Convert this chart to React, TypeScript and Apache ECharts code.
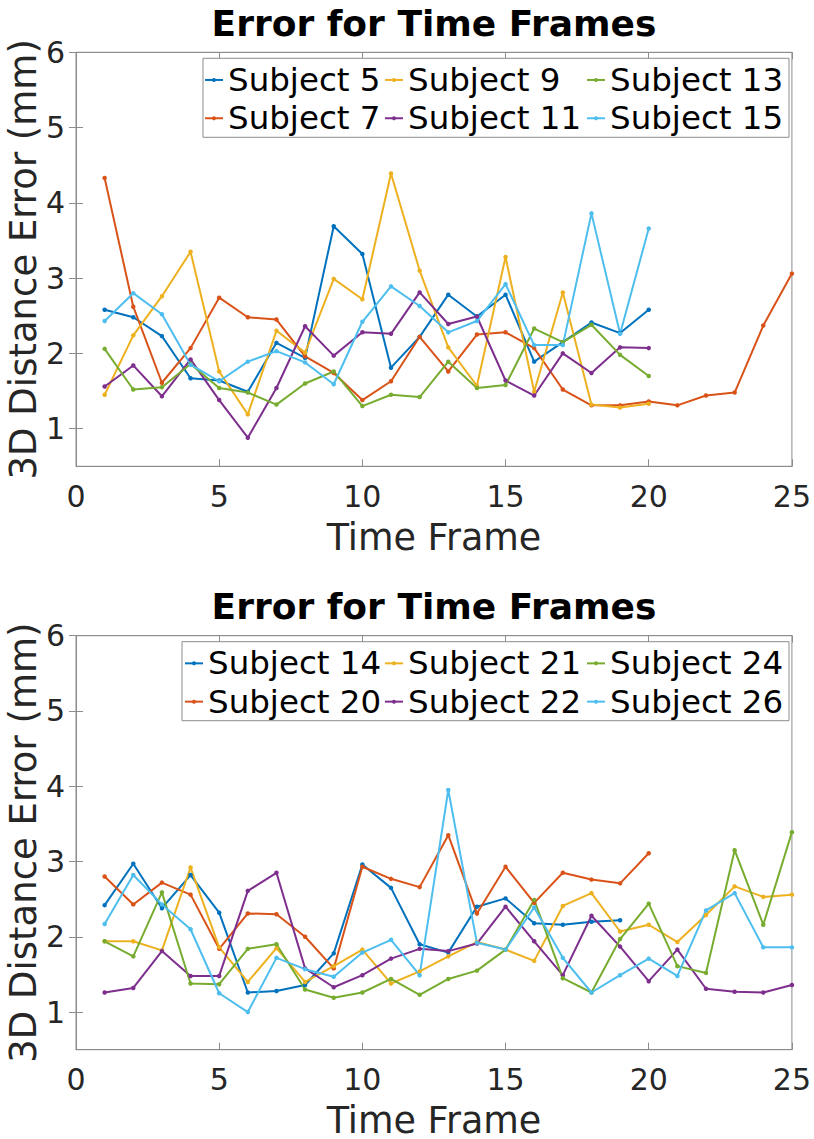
import React, { useEffect, useRef } from "react";
import * as echarts from "echarts";

const frames = [1, 2, 3, 4, 5, 6, 7, 8, 9, 10, 11, 12, 13, 14, 15, 16, 17, 18, 19, 20, 21, 22, 23, 24, 25];
const xTicks = [0, 5, 10, 15, 20, 25];
const yTicks = [1, 2, 3, 4, 5, 6];

// Top chart
const subject5 = [2.58, 2.48, 2.23, 1.67, 1.64, 1.49, 2.14, 1.94, 3.69, 3.32, 1.81, 2.22, 2.78, 2.49, 2.78, 1.89, 2.15, 2.41, 2.27, 2.58];
const subject7 = [4.33, 2.62, 1.61, 2.07, 2.74, 2.48, 2.45, 1.96, 1.74, 1.38, 1.63, 2.22, 1.76, 2.25, 2.28, 2.07, 1.52, 1.31, 1.31, 1.36, 1.31, 1.44, 1.48, 2.37, 3.06];
const subject9 = [1.45, 2.24, 2.76, 3.35, 1.76, 1.19, 2.3, 2.01, 2.99, 2.72, 4.39, 3.1, 2.08, 1.57, 3.28, 1.49, 2.81, 1.32, 1.28, 1.33];
const subject11 = [1.56, 1.84, 1.43, 1.92, 1.38, 0.88, 1.54, 2.36, 1.97, 2.28, 2.26, 2.81, 2.39, 2.49, 1.64, 1.44, 2.0, 1.74, 2.08, 2.07];
const subject13 = [2.06, 1.52, 1.55, 1.86, 1.54, 1.48, 1.32, 1.6, 1.76, 1.3, 1.45, 1.42, 1.89, 1.54, 1.58, 2.33, 2.15, 2.38, 1.98, 1.7];
const subject15 = [2.43, 2.8, 2.52, 1.85, 1.63, 1.89, 2.03, 1.88, 1.59, 2.42, 2.89, 2.63, 2.28, 2.43, 2.92, 2.11, 2.11, 3.86, 2.26, 3.66];

// Bottom chart
const subject14 = [2.42, 2.97, 2.38, 2.82, 2.32, 1.26, 1.28, 1.36, 1.78, 2.96, 2.65, 1.9, 1.79, 2.4, 2.51, 2.18, 2.16, 2.2, 2.22];
const subject20 = [2.8, 2.43, 2.72, 2.56, 1.84, 2.31, 2.3, 2.0, 1.58, 2.93, 2.77, 2.66, 3.35, 2.31, 2.93, 2.45, 2.85, 2.76, 2.71, 3.11];
const subject21 = [1.94, 1.94, 1.82, 2.92, 1.86, 1.4, 1.85, 1.4, 1.61, 1.83, 1.38, 1.54, 1.74, 1.93, 1.83, 1.68, 2.41, 2.58, 2.07, 2.16, 1.93, 2.29, 2.67, 2.53, 2.56];
const subject22 = [1.26, 1.32, 1.81, 1.48, 1.48, 2.61, 2.85, 1.58, 1.33, 1.49, 1.71, 1.84, 1.81, 1.91, 2.4, 1.94, 1.49, 2.28, 1.87, 1.41, 1.83, 1.31, 1.27, 1.26, 1.36];
const subject24 = [1.94, 1.74, 2.59, 1.38, 1.37, 1.84, 1.9, 1.3, 1.19, 1.26, 1.44, 1.23, 1.44, 1.55, 1.83, 2.49, 1.45, 1.26, 1.97, 2.44, 1.61, 1.52, 3.15, 2.16, 3.39];
const subject26 = [2.17, 2.82, 2.43, 2.1, 1.25, 1.0, 1.72, 1.57, 1.47, 1.79, 1.96, 1.49, 3.95, 1.92, 1.83, 2.39, 1.72, 1.26, 1.49, 1.71, 1.48, 2.35, 2.58, 1.86, 1.86];

const topNames = ["Subject 5", "Subject 7", "Subject 9", "Subject 11", "Subject 13", "Subject 15"];
const bottomNames = ["Subject 14", "Subject 20", "Subject 21", "Subject 22", "Subject 24", "Subject 26"];
const topValues = [subject5, subject7, subject9, subject11, subject13, subject15];
const bottomValues = [subject14, subject20, subject21, subject22, subject24, subject26];
const colors = ["#0072BD", "#D95319", "#EDB120", "#7E2F8E", "#77AC30", "#4DBEEE"];

const titleText = "Error for Time Frames";
const xLabel = "Time Frame";
const yLabel = "3D Distance Error (mm)";

const FONT = "DejaVu Sans";
const AXIS_COLOR = "#8c8c8c";
const TEXT_COLOR = "#262626";

const GRID_LEFT = 76;
const GRID_RIGHT_X = 792;
const GRID_TOPS = [52.3, 635.7];
const GRID_H = 414;

export default function App() {
  const ref = useRef<HTMLDivElement>(null);

  useEffect(() => {
    if (!ref.current) return;
    const chart = echarts.init(ref.current, null, { renderer: "svg" });

    const grids = GRID_TOPS.map((t) => ({
      left: GRID_LEFT,
      top: t,
      width: GRID_RIGHT_X - GRID_LEFT,
      height: GRID_H,
      show: true,
      borderColor: AXIS_COLOR,
      borderWidth: 1,
      backgroundColor: "#fff",
    }));

    const xAxes: any[] = [];
    const yAxes: any[] = [];
    [0, 1].forEach((g) => {
      xAxes.push({
        type: "value",
        gridIndex: g,
        position: "bottom",
        min: 0,
        max: 25,
        interval: 5,
        axisLine: { show: true, lineStyle: { color: AXIS_COLOR, width: 1 } },
        axisTick: { show: true, inside: true, length: 7, lineStyle: { color: AXIS_COLOR } },
        axisLabel: { show: true, margin: 15, fontSize: 30, fontFamily: FONT, color: TEXT_COLOR, customValues: xTicks },
        splitLine: { show: false },
      });
      xAxes.push({
        type: "value",
        gridIndex: g,
        position: "top",
        min: 0,
        max: 25,
        interval: 5,
        axisLine: { show: true, lineStyle: { color: AXIS_COLOR, width: 1 } },
        axisTick: { show: true, inside: true, length: 7, lineStyle: { color: AXIS_COLOR } },
        axisLabel: { show: false },
        splitLine: { show: false },
      });
      yAxes.push({
        type: "value",
        gridIndex: g,
        position: "left",
        min: 0.5,
        max: 6,
        axisLine: { show: true, lineStyle: { color: AXIS_COLOR, width: 1 } },
        axisTick: { show: true, inside: true, length: 7, lineStyle: { color: AXIS_COLOR }, customValues: yTicks },
        axisLabel: { show: true, margin: 11, fontSize: 30, fontFamily: FONT, color: TEXT_COLOR, customValues: yTicks },
        splitLine: { show: false },
      });
      yAxes.push({
        type: "value",
        gridIndex: g,
        position: "right",
        min: 0.5,
        max: 6,
        axisLine: { show: true, lineStyle: { color: AXIS_COLOR, width: 1 } },
        axisTick: { show: true, inside: true, length: 7, lineStyle: { color: AXIS_COLOR }, customValues: yTicks },
        axisLabel: { show: false },
        splitLine: { show: false },
      });
    });

    const mkSeries = (names: string[], values: number[][], g: number) =>
      names.map((name, i) => ({
        name,
        type: "line",
        xAxisIndex: g * 2,
        yAxisIndex: g * 2,
        data: values[i].map((v, k) => [frames[k], v]),
        symbol: "circle",
        symbolSize: 4.5,
        showSymbol: true,
        lineStyle: { width: 2, color: colors[i] },
        itemStyle: { color: colors[i] },
        emphasis: { disabled: true },
      }));

    const legendCol = (names: string[], left: number, top: number) => ({
      orient: "vertical",
      left,
      top,
      data: names,
      itemWidth: 18,
      itemHeight: 5,
      itemGap: 0,
      padding: 0,
      selectedMode: false,
      textStyle: { fontSize: 32.5, lineHeight: 38.3, fontFamily: FONT, color: "#000" },
    });

    const legendTops = [GRID_TOPS[0] + 8.5, GRID_TOPS[1] + 8.5];
    const legends = [
      legendCol([topNames[0], topNames[1]], 204, legendTops[0]),
      legendCol([topNames[2], topNames[3]], 384, legendTops[0]),
      legendCol([topNames[4], topNames[5]], 586, legendTops[0]),
      legendCol([bottomNames[0], bottomNames[1]], 184, legendTops[1]),
      legendCol([bottomNames[2], bottomNames[3]], 384, legendTops[1]),
      legendCol([bottomNames[4], bottomNames[5]], 586, legendTops[1]),
    ];

    const legendBoxes = [
      { x: 203, y: GRID_TOPS[0] + 6, w: 586, h: 79 },
      { x: 182, y: GRID_TOPS[1] + 6, w: 607, h: 79 },
    ];

    const graphics: any[] = [];
    GRID_TOPS.forEach((t, g) => {
      const cx = (GRID_LEFT + GRID_RIGHT_X) / 2;
      graphics.push({
        type: "text",
        x: cx,
        y: t - 29,
        z: 10,
        style: { text: titleText, fontSize: 36, fontWeight: "bold", fontFamily: FONT, fill: "#000", align: "center", verticalAlign: "middle" },
      });
      graphics.push({
        type: "text",
        x: cx,
        y: t + 485,
        z: 10,
        style: { text: xLabel, fontSize: 36.5, fontFamily: FONT, fill: TEXT_COLOR, align: "center", verticalAlign: "middle" },
      });
      graphics.push({
        type: "text",
        x: 23,
        y: t + GRID_H / 2,
        rotation: Math.PI / 2,
        z: 10,
        style: { text: yLabel, fontSize: 37, fontFamily: FONT, fill: TEXT_COLOR, align: "center", verticalAlign: "middle" },
      });
      const b = legendBoxes[g];
      graphics.push({
        type: "rect",
        z: 3,
        shape: { x: b.x, y: b.y, width: b.w, height: b.h },
        style: { fill: "#fff", stroke: AXIS_COLOR, lineWidth: 1 },
      });
    });

    chart.setOption({
      animation: false,
      backgroundColor: "#fff",
      grid: grids,
      xAxis: xAxes,
      yAxis: yAxes,
      legend: legends,
      graphic: graphics,
      series: [...mkSeries(topNames, topValues, 0), ...mkSeries(bottomNames, bottomValues, 1)],
    });

    return () => chart.dispose();
  }, []);

  return <div ref={ref} style={{ position: "absolute", left: 0, top: 0, width: 814, height: 1139, background: "#fff" }} />;
}
